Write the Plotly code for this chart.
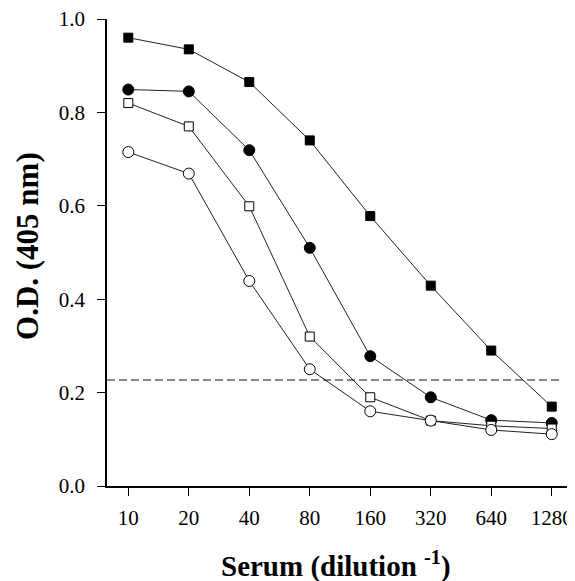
import plotly.graph_objects as go

dilutions = [10, 20, 40, 80, 160, 320, 640, 1280]
tick_labels = ["10", "20", "40", "80", "160", "320", "640", "1280"]
filled_square = [0.960, 0.935, 0.865, 0.740, 0.578, 0.429, 0.290, 0.170]
filled_circle = [0.849, 0.845, 0.719, 0.510, 0.278, 0.190, 0.141, 0.135]
open_square = [0.820, 0.770, 0.599, 0.320, 0.190, 0.140, 0.129, 0.123]
open_circle = [0.715, 0.669, 0.439, 0.250, 0.160, 0.140, 0.120, 0.111]
cutoff = 0.227
y_ticks = [0.0, 0.2, 0.4, 0.6, 0.8, 1.0]

FONT = "Liberation Serif, Times New Roman, serif"
LINE = "#222222"

fig = go.Figure()

series = [
    (filled_square, "square", "black", 9),
    (filled_circle, "circle", "black", 11),
    (open_square, "square", "white", 9),
    (open_circle, "circle", "white", 11),
]
for vals, sym, fill, size in series:
    fig.add_trace(go.Scatter(
        x=dilutions, y=vals, mode="lines+markers",
        line=dict(color=LINE, width=1),
        marker=dict(symbol=sym, size=size, color=fill,
                    line=dict(color="black", width=1)),
        showlegend=False, cliponaxis=False,
    ))

fig.add_shape(type="line", xref="paper", yref="y", x0=0, x1=0.9785,
              y0=cutoff, y1=cutoff,
              line=dict(color="#111111", width=1, dash="8px,4px"))

fig.update_xaxes(
    type="log", range=[0.894, 3.213],
    tickvals=dilutions, ticktext=tick_labels,
    ticks="outside", ticklen=8, tickwidth=1, tickcolor="black",
    showline=True, linecolor="black", linewidth=1.5,
    showgrid=False, zeroline=False,
    tickfont=dict(family=FONT, size=21, color="black"),
    ticklabelstandoff=4, ticklabeloverflow="allow",
)
fig.update_yaxes(
    range=[0, 1.0], tickvals=y_ticks, tickformat=".1f",
    ticks="outside", ticklen=8, tickwidth=1, tickcolor="black",
    showline=True, linecolor="black", linewidth=1.5,
    showgrid=False, zeroline=False,
    tickfont=dict(family=FONT, size=21, color="black"),
    ticklabelstandoff=8, ticklabeloverflow="allow",
)

fig.add_annotation(
    text="<b>O.D. (405 nm)</b>", xref="paper", yref="paper",
    x=-0.1695, y=0.514, textangle=-90, showarrow=False,
    xanchor="center", yanchor="middle",
    font=dict(family=FONT, size=31, color="black"),
)
fig.add_annotation(
    text="<b>Serum (dilution <sup>-1</sup>)</b>", xref="paper", yref="paper",
    x=0.491, y=-0.169, showarrow=False,
    xanchor="center", yanchor="middle",
    font=dict(family=FONT, size=29, color="black"),
)

# the page adds an 8px body margin, so the figure is 8px smaller
fig.update_layout(
    width=567, height=573,
    margin=dict(l=99, r=2, t=11, b=95, autoexpand=False),
    paper_bgcolor="white", plot_bgcolor="white",
)

fig.write_html("out.html")
